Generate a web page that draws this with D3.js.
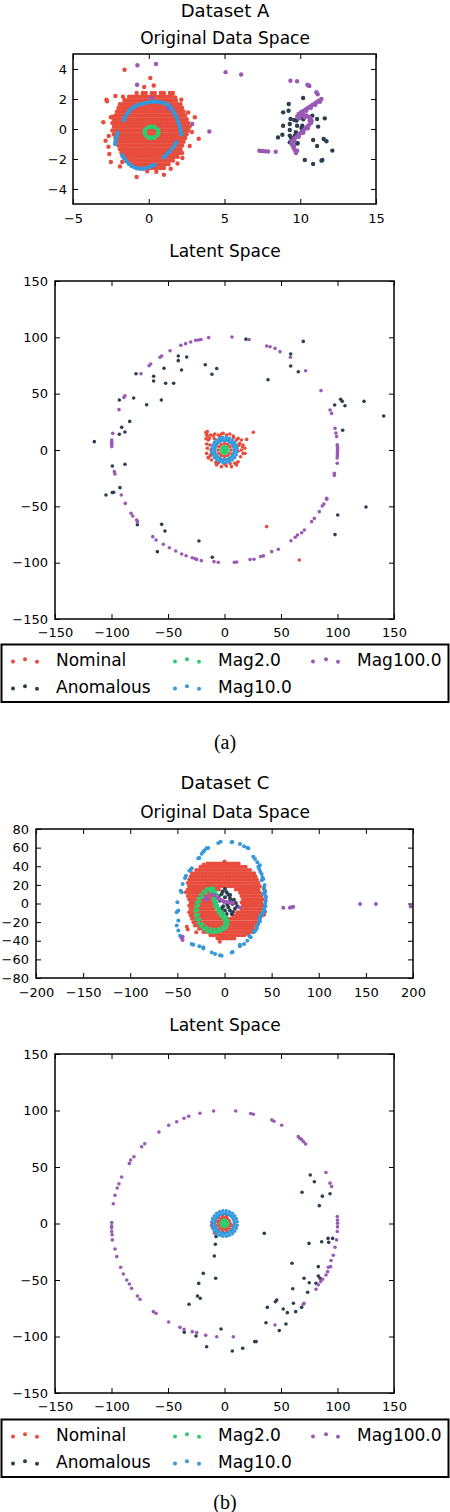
<!DOCTYPE html>
<html>
<head>
<meta charset="utf-8">
<script src="https://cdn.jsdelivr.net/npm/d3@7"></script>
<style>
body { margin: 0; background: #fff; }
svg { display: block; }
</style>
</head>
<body>
<script>
var width = 450;
var height = 1512;

var seriesNames = ["Nominal", "Anomalous", "Mag2.0", "Mag10.0", "Mag100.0"];
var seriesColors = ["#e74c3c", "#2c3e50", "#2ecc71", "#3498db", "#9b59b6"];

var origTicksA_x = [-5, 0, 5, 10, 15];
var origTicksA_y = [-4, -2, 0, 2, 4];
var origTicksC_x = [-200, -150, -100, -50, 0, 50, 100, 150, 200];
var origTicksC_y = [-80, -60, -40, -20, 0, 20, 40, 60, 80];
var latentTicks = [-150, -100, -50, 0, 50, 100, 150];

// ---- Dataset A, original space ----
// dense nominal blob, one row per y: [y, [x...]]
var aOrigNominalRows = [
  [2.4, [-0.8, -0.4, -0.2, 0.2, 0.4, 0.8, 1, 1.4]],
  [2.15, [-1.3, -1.1, -0.9, -0.7, -0.5, -0.3, -0.1, 0.1, 0.3, 0.5, 0.7, 0.9, 1.1, 1.3, 1.5]],
  [1.9, [-1.6, -1.4, -1.2, -1, -0.8, -0.6, -0.4, -0.2, 0, 0.2, 0.4, 0.6, 0.8, 1, 1.2, 1.4, 1.6, 1.8]],
  [1.65, [-1.9, -1.7, -1.5, -1.3, -1.1, -0.9, -0.7, -0.5, -0.3, -0.1, 0.1, 0.3, 0.5, 0.7, 0.9, 1.1, 1.3, 1.5, 1.7, 1.9, 2.1]],
  [1.4, [-2, -1.8, -1.6, -1.4, -1.2, -1, -0.8, -0.6, -0.4, -0.2, 0, 0.2, 0.4, 0.6, 0.8, 1, 1.2, 1.4, 1.6, 1.8, 2, 2.2]],
  [1.15, [-2.1, -1.9, -1.7, -1.5, -1.3, -1.1, -0.9, -0.7, -0.5, -0.3, -0.1, 0.1, 0.3, 0.5, 0.7, 0.9, 1.1, 1.3, 1.5, 1.7, 1.9, 2.1, 2.3]],
  [0.9, [-2.2, -2, -1.8, -1.6, -1.4, -1.2, -1, -0.8, -0.6, -0.4, -0.2, 0, 0.2, 0.4, 0.6, 0.8, 1, 1.2, 1.4, 1.6, 1.8, 2, 2.2, 2.4]],
  [0.65, [-2.3, -2.1, -1.9, -1.7, -1.5, -1.3, -1.1, -0.9, -0.7, -0.5, -0.3, -0.1, 0.1, 0.3, 0.5, 0.7, 0.9, 1.1, 1.3, 1.5, 1.7, 1.9, 2.1, 2.3, 2.5]],
  [0.4, [-2.4, -2.2, -2, -1.8, -1.6, -1.4, -1.2, -1, -0.8, -0.6, -0.4, -0.2, 0, 0.2, 0.4, 0.6, 0.8, 1, 1.2, 1.4, 1.6, 1.8, 2, 2.2, 2.4, 2.6]],
  [0.15, [-2.3, -2.1, -1.9, -1.7, -1.5, -1.3, -1.1, -0.9, -0.7, -0.5, -0.3, -0.1, 0.1, 0.3, 0.5, 0.7, 0.9, 1.1, 1.3, 1.5, 1.7, 1.9, 2.1, 2.3, 2.5, 2.7]],
  [-0.1, [-2.4, -2.2, -2, -1.8, -1.6, -1.4, -1.2, -1, -0.8, -0.6, -0.4, -0.2, 0, 0.2, 0.4, 0.6, 0.8, 1, 1.2, 1.4, 1.6, 1.8, 2, 2.2, 2.4, 2.6]],
  [-0.35, [-2.3, -2.1, -1.9, -1.7, -1.5, -1.3, -1.1, -0.9, -0.7, -0.5, -0.3, -0.1, 0.1, 0.3, 0.5, 0.7, 0.9, 1.1, 1.3, 1.5, 1.7, 1.9, 2.1, 2.3, 2.5]],
  [-0.6, [-2.2, -2, -1.8, -1.6, -1.4, -1.2, -1, -0.8, -0.6, -0.4, -0.2, 0, 0.2, 0.4, 0.6, 0.8, 1, 1.2, 1.4, 1.6, 1.8, 2, 2.2, 2.4]],
  [-0.85, [-2.1, -1.9, -1.7, -1.5, -1.3, -1.1, -0.9, -0.7, -0.5, -0.3, -0.1, 0.1, 0.3, 0.5, 0.7, 0.9, 1.1, 1.3, 1.5, 1.7, 1.9, 2.1, 2.3]],
  [-1.1, [-2, -1.8, -1.6, -1.4, -1.2, -1, -0.8, -0.6, -0.4, -0.2, 0, 0.2, 0.4, 0.6, 0.8, 1, 1.2, 1.4, 1.6, 1.8, 2, 2.2]],
  [-1.35, [-1.9, -1.7, -1.5, -1.3, -1.1, -0.9, -0.7, -0.5, -0.3, -0.1, 0.1, 0.3, 0.5, 0.7, 0.9, 1.1, 1.3, 1.5, 1.7, 1.9, 2.1]],
  [-1.6, [-1.8, -1.6, -1.4, -1.2, -1, -0.8, -0.6, -0.4, -0.2, 0, 0.2, 0.4, 0.6, 0.8, 1, 1.2, 1.4, 1.6, 1.8, 2]],
  [-1.85, [-1.7, -1.5, -1.3, -1.1, -0.9, -0.7, -0.5, -0.3, -0.1, 0.1, 0.3, 0.5, 0.7, 0.9, 1.1, 1.3, 1.5, 1.7, 1.9]],
  [-2.1, [-1.4, -1.2, -1, -0.8, -0.6, -0.4, -0.2, 0, 0.2, 0.4, 0.6, 0.8, 1, 1.2, 1.4, 1.6]],
  [-2.35, [-1.1, -0.9, -0.7, -0.5, -0.3, -0.1, 0.1, 0.3, 0.5, 0.7, 0.9, 1.1, 1.3]],
  [-2.6, [-0.8, -0.6, -0.4, -0.2, 0, 0.2, 0.4, 0.6, 0.8, 1]]
];
var aOrigNominalOut = [[-1.6, 3.95], [0.1, 3.4], [-0.3, 2.8], [0.33, 2.9], [-2.8, 1.95], [-3.0, 0.45],
  [-2.5, 0.78], [3.04, 0.78], [3.3, -0.65], [2.7, -1.13], [2.22, -1.93], [1.45, -2.65], [1.0, -3.05],
  [-0.8, -3.2], [0.5, -2.85], [-0.1, -2.82], [-2.85, -0.78], [-2.6, -1.67], [-2.5, -2.2], [2.15, 1.95],
  [1.6, 2.4], [2.45, 0.1], [2.2, -1.6], [-2.66, -1.18], [-2.64, -0.47], [-2.42, 0.82], [-2.75, 1.85],
  [2.6, 1.1], [2.85, -0.2], [1.9, -2.3], [-1.9, -2.5], [-2.2, 2.2], [1.54, 2.33], [0.84, 2.38], [-1.58, 1.93],
  [-1.7, 2.15], [1.75, 2.1], [-1.75, -2.2]];
var aOrigAnomalous = [[10.19, 2.07], [9.24, 1.67], [8.87, 1.11], [9.23, 1.22], [10.08, 1.11], [9.36, 0.67],
  [9.75, 0.56], [10.19, 0.82], [10.8, 0.89], [11.11, 0.67], [11.62, 0.71], [8.87, 0.22], [9.31, 0.33],
  [9.79, 0.22], [10.14, 0.22], [11.18, 0.16], [9.31, -0.07], [9.71, -0.22], [8.82, -0.38], [8.53, -0.56],
  [9.31, -0.44], [9.64, -0.44], [10.14, -0.22], [10.85, -0.73], [11.55, -0.67], [11.73, -0.82],
  [11.11, -1.13], [9.31, -0.89], [9.79, -0.96], [12.12, -1.44], [10.3, -2.07], [10.85, -2.33],
  [11.4, -2.11], [11.46, -2.07], [9.92, 0.89], [10.08, 0.07], [10.2, 0.65], [9.6, 0.6], [9.4, -0.6], [9.83, -0.95]];
var aOrigMag2 = [[0.63, -0.22], [0.57, -0.03], [0.4, 0.11], [0.18, 0.16], [-0.05, 0.11], [-0.21, -0.03],
  [-0.27, -0.22], [-0.21, -0.41], [-0.05, -0.55], [0.18, -0.6], [0.4, -0.55], [0.57, -0.41], [0.3, 0.15],
  [0.05, 0.14], [-0.25, -0.12], [-0.25, -0.32], [0.05, -0.58], [0.3, -0.58], [0.62, -0.12], [0.62, -0.32]];
var aOrigMag10 = [[-1.65, 0.6], [-1.55, 0.8], [-1.45, 0.98], [-1.32, 1.15], [-1.2, 1.3], [-1.05, 1.42],
  [-0.88, 1.52], [-0.7, 1.6], [-0.52, 1.66], [-0.33, 1.72], [-0.15, 1.76], [0.05, 1.8], [0.25, 1.82],
  [0.45, 1.82], [0.65, 1.8], [0.85, 1.76], [1.05, 1.72], [1.22, 1.64], [1.38, 1.52], [1.5, 1.38],
  [1.6, 1.2], [1.7, 1.02], [1.8, 0.84], [1.88, 0.65], [1.95, 0.45], [2.02, 0.25], [2.08, 0.05],
  [2.12, -0.15], [2.15, -0.35], [-2.05, -0.25], [-2.1, -0.45], [-2.15, -0.65], [-2.2, -0.85],
  [-2.22, -1.0], [-1.75, -1.75], [-1.62, -1.95], [-1.48, -2.15], [-1.32, -2.32], [-1.15, -2.45],
  [-0.95, -2.55], [-0.75, -2.62], [-0.55, -2.65], [-0.35, -2.65], [-0.15, -2.6], [0.05, -2.52],
  [0.22, -2.45], [0.4, -2.38], [1.0, -1.88], [1.12, -1.75], [1.25, -1.62], [1.38, -1.5], [1.55, -1.3],
  [1.7, -1.1], [1.82, -0.9]];
var aOrigMag100 = [[-0.75, 4.25], [0.48, 4.33], [-0.77, 2.95], [0.22, 2.07], [1.24, 1.36], [2.87, 0.33],
  [4.0, -0.17], [5.07, 3.79], [6.1, 3.63], [9.35, 3.22], [9.79, 3.18], [10.47, 2.95], [10.55, 2.9],
  [10.6, 2.87], [11.07, 2.45], [11.15, 2.32],
  [11.4, 2.0], [11.25, 1.9], [11.1, 1.8], [10.95, 1.7], [10.8, 1.6], [10.65, 1.5], [10.5, 1.4],
  [10.35, 1.3], [10.2, 1.2], [10.05, 1.1], [9.9, 1.0], [9.8, 0.85], [10.0, 0.92], [10.2, 0.94],
  [10.4, 0.9], [10.55, 0.82], [10.68, 0.7], [10.75, 0.55], [10.72, 0.42], [10.6, 0.3], [10.48, 0.18],
  [10.35, 0.05], [10.22, -0.08], [10.08, -0.2], [9.95, -0.32], [9.82, -0.45], [9.68, -0.58],
  [9.55, -0.7], [9.45, -0.82], [9.42, -0.95], [9.48, -1.08], [9.55, -1.22], [9.62, -1.36],
  [9.68, -1.5], [9.72, -1.6], [7.3, -1.45], [7.42, -1.46], [7.55, -1.47], [7.7, -1.49], [7.88, -1.5],
  [8.38, -1.52],
  [11.3, 1.82], [11.0, 1.62], [10.7, 1.42], [10.4, 1.22], [10.1, 1.02], [9.92, 0.72], [10.3, 0.78],
  [10.62, 0.55], [10.5, 0.05], [10.2, -0.25], [9.9, -0.52], [9.6, -0.8], [9.6, -1.1], [9.8, -1.45]];

// ---- Dataset A, latent space ----
var aLatNominal = [[-15.2, 16.3], [-15.2, 12.4], [-14.3, 8.9], [-12.3, 13.3], [-10, 12.4], [-8.6, 14.2],
  [-5.6, 13.3], [-2.7, 14.2], [1.8, 13.3], [4.7, 14.2], [7.7, 12.4], [12.1, 10.3], [15, 8.9], [16.5, 4.4],
  [18, 1.5], [16.5, -3], [14.2, -6], [12.1, -10.4], [10.6, -13.3], [6.2, -14.8], [1.8, -14.2],
  [-2.7, -14.8], [-7.1, -13.3], [-11.5, -8.9], [-14.3, -6.5], [-15.8, -3], [-15.2, 1.5], [-15.8, 5.3],
  [-13.4, 10.3], [10.6, 8.9], [13.5, 5.9], [15, 0], [9.1, -11.8], [-11.5, -3], [-13, 4.4], [-1.2, 14.8],
  [-7.7, -11.2], [-16.4, 15.7], [19.6, 9.4], [15.8, 3], [18.1, -3], [-14.3, -7.1], [-5.5, -11.5],
  [10.6, -11.5], [-12, 0], [12, -1], [0, -12.5], [-4, 12], [5, -12], [12.5, 4], [-12.5, -5], [8, 11],
  [-9, 10], [-16.4, 10], [-16, 14],
  [5.7, 0], [4.9, 2.9], [2.9, 4.9], [0, 5.7], [-2.9, 4.9], [-4.9, 2.9], [-5.7, 0], [-4.9, -2.9],
  [-2.9, -4.9], [0, -5.7], [2.9, -4.9], [4.9, -2.9],
  [37.3, -68], [66.2, -97.6], [25.5, 15.7]];
var aLatAnomalous = [[-115.2, 7.4], [-104.9, -39.9], [-93.1, 44.4], [-93.1, 14], [-91, 20.1], [-88.1, 16],
  [-83.9, 25.4], [-88.1, -12.7], [-99.3, -14.2], [-92.5, -33.4], [-98.1, -37.5], [-99.3, -37.8],
  [-80.4, 46.2], [-78.3, 67.7], [-68.9, 40.2], [-62.7, 65.4], [-62.7, 61.3], [-55.9, 44.4], [-53.5, 72.5],
  [-52.1, 59.2], [-45, 59.2], [-40.9, 79.3], [-40.9, 83.4], [-38, 71], [-33.5, 82.6], [-17, 75.6],
  [-11.1, 67.3], [-6.9, 72.4], [19, 98.4], [38.5, 62.4], [58.6, 85.2], [58.6, 74.6], [69.7, 96.4],
  [65.3, 69.5], [97.5, 39.9], [102.8, 45], [104.2, 43.2], [106.6, 39.3], [104.6, 17.5], [123.5, 43.2],
  [140.9, 30.2], [-77.1, -66.3], [-59.4, -90.2], [-55.6, -66], [-52.7, -71.9], [-22.6, -80.8],
  [-10.8, -95.2], [100.2, -57.7], [97.8, -75.1], [125.2, -50.6]];
var aLatMag2 = [[0, 0], [2.2, 0], [-2.2, 0], [0, 2.2], [0, -2.2], [1.6, 1.6], [-1.6, 1.6], [1.6, -1.6],
  [-1.6, -1.6], [3, 0], [-3, 0], [0, 3], [0, -3], [2.1, 2.1], [-2.1, 2.1], [2.1, -2.1], [-2.1, -2.1]];
var aLatMag10 = [[8.6, 0], [8.3, 2.2], [7.5, 4.3], [6.1, 6.1], [4.3, 7.4], [2.2, 8.3], [0, 8.6], [-2.2, 8.3],
  [-4.3, 7.5], [-6.1, 6.1], [-7.4, 4.3], [-8.3, 2.2], [-8.6, 0], [-8.3, -2.2], [-7.5, -4.3], [-6.1, -6.1],
  [-4.3, -7.4], [-2.2, -8.3], [0, -8.6], [2.2, -8.3], [4.3, -7.5], [6.1, -6.1], [7.4, -4.3], [8.3, -2.2],
  [11.1, 1.5], [10.3, 4.3], [8.9, 6.8], [6.8, 8.9], [4.3, 10.3], [1.5, 11.1], [-1.5, 11.1], [-4.3, 10.3],
  [-6.8, 8.9], [-8.9, 6.8], [-10.3, 4.3], [-11.1, 1.5], [-11.1, -1.5], [-10.3, -4.3], [-8.9, -6.8],
  [-6.8, -8.9], [-4.3, -10.3], [-1.5, -11.1], [1.5, -11.1], [4.3, -10.3], [6.8, -8.9], [8.9, -6.8],
  [10.3, -4.3], [11.1, -1.5]];
var aLatMag100 = [[-14, 99.7], [6.6, 100.3], [21.7, 98.1], [-20.8, 98.1], [-23, 97.6], [-25.5, 97.4],
  [-29.9, 95.9], [-34.4, 94.4], [-38.6, 92.9], [-48.2, 88.1], [-55.6, 83.4], [-57, 82.3], [-65.3, 76.3],
  [-66.8, 74.8], [-73.9, 67.7], [-88.1, 48.2], [-89, 46.7], [-93.4, 35.8], [-98.9, 14.8], [-99.8, 8.9],
  [-99.9, 7], [-99.8, 6.5], [-99.8, 5], [-99.8, 3], [-97.5, -19.2], [-96.9, -21.3], [-91.3, -39.9],
  [37.3, 92.3], [40.3, 91.7], [44.7, 90.2], [49.1, 87.3], [58.3, 82.3], [71.8, 70.4], [85.4, 52.7],
  [93.4, 35.5], [94.8, 32.5], [97.8, 19.2], [98.6, 15], [99.2, 12], [99.8, 4.7], [99.9, 3], [100.1, 1.8],
  [100, 0.5], [100.1, -1.2], [99.9, -3], [99.9, -5], [99.7, -7], [99.8, -11.8], [97.2, -20.7],
  [97.2, -22.5], [90.4, -42.9],
  [-87.8, -47.4], [-82.7, -56.2], [-81.2, -58.6], [-77.7, -62.1], [-77.1, -63.6], [-63.5, -76.9],
  [-60.6, -79.9], [-54.1, -83.7], [-48.8, -86.7], [-43.2, -89.6], [-37.9, -92.3], [-34, -93.8],
  [-28.5, -95.6], [-26.1, -96.5], [-24.6, -97.1], [-20.5, -98.2], [-9.3, -99.1], [-5.5, -99.7],
  [8.7, -99.7], [10.8, -99.4], [22.6, -97.3], [26.1, -97], [32, -94.6], [34.4, -94], [41.8, -90.2],
  [47.6, -88.1], [58.8, -80.5], [62.6, -77.5], [64.6, -75.4], [68.3, -73.4], [70.7, -71], [77.1, -63.6],
  [79.5, -60.7], [83.9, -54.7], [86.5, -49.7], [88, -47.9], [90.4, -43.8]];

// ---- Dataset C, original space ----
var cOrigNominalRows = [
  [43, [-18, -15, -12, -9, -6, -3, 0, 3, 6, 9, 12, 15]],
  [39.5, [-25.5, -22.5, -19.5, -16.5, -13.5, -10.5, -7.5, -4.5, -1.5, 1.5, 4.5, 7.5, 10.5, 13.5, 16.5, 19.5, 22.5]],
  [36, [-30, -27, -24, -21, -18, -15, -12, -9, -6, -3, 0, 3, 6, 9, 12, 15, 18, 21, 24, 27]],
  [32.5, [-34.5, -31.5, -28.5, -25.5, -22.5, -19.5, -16.5, -13.5, -10.5, -7.5, -4.5, -1.5, 1.5, 4.5, 7.5, 10.5, 13.5, 16.5, 19.5, 22.5, 25.5, 28.5, 31.5]],
  [29, [-36, -33, -30, -27, -24, -21, -18, -15, -12, -9, -6, -3, 0, 3, 6, 9, 12, 15, 18, 21, 24, 27, 30, 33]],
  [25.5, [-37.5, -34.5, -31.5, -28.5, -25.5, -22.5, -19.5, -16.5, -13.5, -10.5, -7.5, -4.5, -1.5, 1.5, 4.5, 7.5, 10.5, 13.5, 16.5, 19.5, 22.5, 25.5, 28.5, 31.5, 34.5]],
  [22, [-39, -36, -33, -30, -27, -24, -21, -18, -15, -12, -9, -6, -3, 0, 3, 6, 9, 12, 15, 18, 21, 24, 27, 30, 33, 36]],
  [18.5, [-37.5, -34.5, -31.5, -28.5, -25.5, -22.5, -19.5, -16.5, -13.5, -10.5, -7.5, -4.5, -1.5, 1.5, 4.5, 7.5, 10.5, 13.5, 16.5, 19.5, 22.5, 25.5, 28.5, 31.5, 34.5, 37.5]],
  [15, [-39, -36, -33, -30, -27, -24, -21, -18, -15, -12, -9, -6, 12, 15, 18, 21, 24, 27, 30, 33, 36]],
  [11.5, [-37.5, -34.5, -31.5, -28.5, -25.5, -22.5, -19.5, -16.5, -13.5, -10.5, 16.5, 19.5, 22.5, 25.5, 28.5, 31.5, 34.5, 37.5]],
  [8, [-39, -36, -33, -30, -27, -24, -21, -18, -15, -12, 18, 21, 24, 27, 30, 33, 36, 39]],
  [4.5, [-37.5, -34.5, -31.5, -28.5, -25.5, -22.5, -19.5, -16.5, -13.5, 19.5, 22.5, 25.5, 28.5, 31.5, 34.5, 37.5, 40.5]],
  [1, [-36, -33, -30, -27, -24, -21, -18, -15, -12, 18, 21, 24, 27, 30, 33, 36, 39]],
  [-2.5, [-37.5, -34.5, -31.5, -28.5, -25.5, -22.5, -19.5, -16.5, -13.5, -10.5, 19.5, 22.5, 25.5, 28.5, 31.5, 34.5, 37.5, 40.5]],
  [-6, [-36, -33, -30, -27, -24, -21, -18, -15, -12, 18, 21, 24, 27, 30, 33, 36, 39]],
  [-9.5, [-37.5, -34.5, -31.5, -28.5, -25.5, -22.5, -19.5, -16.5, -13.5, -10.5, -7.5, 13.5, 16.5, 19.5, 22.5, 25.5, 28.5, 31.5, 34.5, 37.5]],
  [-13, [-36, -33, -30, -27, -24, -21, -18, -15, -12, -9, -6, -3, 9, 12, 15, 18, 21, 24, 27, 30, 33, 36]],
  [-16.5, [-34.5, -31.5, -28.5, -25.5, -22.5, -19.5, -16.5, -13.5, -10.5, -7.5, -4.5, -1.5, 1.5, 4.5, 7.5, 10.5, 13.5, 16.5, 19.5, 22.5, 25.5, 28.5, 31.5, 34.5, 37.5]],
  [-20, [-33, -30, -27, -24, -21, -18, -15, -12, -9, -6, -3, 0, 3, 6, 9, 12, 15, 18, 21, 24, 27, 30, 33, 36]],
  [-23.5, [-31.5, -28.5, -25.5, -22.5, -19.5, -16.5, -13.5, -10.5, -7.5, -4.5, -1.5, 1.5, 4.5, 7.5, 10.5, 13.5, 16.5, 19.5, 22.5, 25.5, 28.5, 31.5, 34.5]],
  [-27, [-27, -24, -21, -18, -15, -12, -9, -6, -3, 0, 3, 6, 9, 12, 15, 18, 21, 24, 27, 30]],
  [-30.5, [-22.5, -19.5, -16.5, -13.5, -10.5, -7.5, -4.5, -1.5, 1.5, 4.5, 7.5, 10.5, 13.5, 16.5, 19.5, 22.5, 25.5, 28.5]],
  [-34, [-15, -12, -9, -6, -3, 0, 3, 6, 9, 12, 15, 18, 21]],
  [-37.5, [-7.5, -4.5, -1.5, 1.5, 4.5, 7.5, 10.5]]
];
var cOrigNominalOut = [[43, -8.8], [-40, -24.9], [-39, -28], [42, -12], [-5, -41], [0, 45], [-22, 42],
  [-41, 12], [41.5, 16], [-30, -31], [25, -33]];
var cOrigAnomalous = [[0.5, 15.6], [2.3, 12], [-3, 10.2], [4.1, 9.3], [0.5, 6.7], [5.8, 5.7], [-4.8, 3],
  [-0.5, 2], [6.7, 3], [8.5, -0.5], [-1.4, -3], [4.1, -4], [-5.7, -6], [0.5, -7.6], [5.8, -7.6],
  [11, -5.7], [2.3, -11.2], [7.6, -11.2], [-3, -9.4], [13.6, -3], [-2, 13], [3, -1], [9, -9], [10, 4],
  [-3, -5], [6, 9], [-6, 8], [12, 0.5]];
var cOrigMag2 = [[-12, 16], [-15, 16.5], [-18.5, 15.5], [-22, 13], [-25, 9.5], [-27.5, 5.5], [-29.5, 1],
  [-30.5, -3.5], [-31, -8], [-30.5, -12.5], [-29.5, -17], [-27.5, -21], [-25, -24.5], [-22, -27.5],
  [-18.5, -29.5], [-15, -30.5], [-11.5, -31], [-8, -30.5], [-4.5, -29.5], [-1, -28], [2, -25.5],
  [3.5, -22], [3.5, -18.5], [2, -15], [-0.5, -12], [-3, -9], [-5.5, -6], [-7.5, -2.5], [-8.5, 1],
  [-9.5, 4.5], [-10.5, 8], [-11.5, 11.5], [-12.5, 14.5],
  [-15, 13.8], [-20, 11.5], [-24, 7], [-26.5, 2.5], [-28, -2], [-28.5, -7], [-28, -12], [-26.5, -17],
  [-23.5, -22], [-19.5, -25.5], [-15, -27.5], [-10.5, -28.3], [-6, -27.5], [-2, -25.5], [0.5, -22],
  [0.5, -18.5], [-1.5, -15.5], [-4, -12.5], [-6.5, -9], [-8.5, -5.5], [-10, -2], [-11, 1.5],
  [-11.8, 5], [-12.5, 9], [-13.5, 12.5], [-9.5, 13], [-8, 9.5], [-7, 6]];
var cOrigMag10 = [[-6.6, 65], [-4.1, 66.4], [7.6, 65.7], [8.3, 66], [16.4, 63.9], [20.7, 61.6], [24.2, 60],
  [25.3, 59.4], [30.6, 50.1], [32.4, 47.8], [34.8, 44.2], [37.5, 41], [35.9, 39.4], [36.9, 37], [38, 34],
  [39.4, 31.7], [40.2, 28], [41.2, 26.3], [39.5, 25], [42.5, 20], [41.9, 17.3], [42.8, 14], [43, 12],
  [41.2, 10.7], [43.5, 8], [44, 6.6], [43.8, 3], [43, 0], [43.5, -3], [41.9, -5.9], [42.7, -8],
  [40.5, -10], [39.4, -11.3], [39.4, -13.5], [38, -14], [36.9, -16.6], [37.5, -19], [35.9, -22],
  [34.2, -24.3], [34.2, -26.6], [33, -29], [31, -31], [27.8, -36.3], [26.3, -35], [24.2, -39.9],
  [20.7, -43.5], [16.4, -46], [16.4, -44.2], [8.7, -52], [7.6, -52.5], [-3, -56], [-4.8, -55.6],
  [-10, -54.3], [-13.6, -52.5], [-22.5, -47.1], [-22.5, -48.3], [-26.7, -46], [-33.1, -44.2],
  [-34.8, -43.5], [-47.2, -34.5], [-49, -29.1], [-50.7, -23.7], [-49, -18.3], [-50.7, -9.5],
  [-49, -7.6], [-50, 1.3], [-46.5, 13.8], [-45.4, 12], [-44.4, 20.9], [-41.9, 27.4], [-40.9, 29.9],
  [-37.3, 35.3], [-35.9, 36], [-34.8, 37.8], [-27.8, 48.6], [-26.7, 48.8], [-24.2, 53.3], [-22.5, 55.6],
  [-21.4, 56.9], [-19, 59.4], [-17.2, 59.6]];
var cOrigMag100 = [[-20.5, 5], [-19, 7], [-18, 4], [-14, 9.5], [-12, 9], [-10, 8.5], [-7, 6], [-5, 4.5],
  [-3, 3.5], [-1, 2.5], [1, 1.5], [3, 1.5], [5, 1], [7, 1], [9, 0.5], [16, -4.2], [-44.4, -35.6],
  [-44.4, -39.2], [-45.5, -37], [62.4, -4.5], [69.4, -4.5], [71, -4], [72.9, -3.4], [143.8, -0.5],
  [160.7, -0.5], [197.5, -3.2]];

// ---- Dataset C, latent space ----
var cLatNominal = [[5, 0], [4.3, 2.5], [2.5, 4.3], [0, 5], [-2.5, 4.3], [-4.3, 2.5], [-5, 0], [-4.3, -2.5],
  [-2.5, -4.3], [0, -5], [2.5, -4.3], [4.3, -2.5], [1.9, 7], [-1.9, 7], [-5.2, 5.2], [-7, 1.9],
  [-7, -1.9], [-5.2, -5.2], [-1.9, -7], [1.9, -7], [5.2, -5.2], [7, -1.9], [-11, 0.5], [-11.5, -2],
  [-10, -4], [-9, -8.5]];
var cLatAnomalous = [[75.9, 42.9], [79.5, 37], [68.6, 27.6], [86.6, 24.2], [93.4, 26.3], [83.9, 15.8],
  [35.2, -8.7], [74.8, -17.6], [86, -16.1], [92.2, -16.7], [91.6, -13.2], [95.7, -13.2], [-7.5, -11.6],
  [-8.1, -18.4], [-9, -28.7], [59.7, -35.2], [83, -38.2], [83, -46.4], [84.6, -48.5], [70.4, -48.5],
  [75, -52.4], [81, -52.9], [60.4, -57.7], [73.6, -60.9], [61, -70.6], [46.2, -67.7], [45, -69.2],
  [52, -75.6], [55.6, -78.9], [63, -78], [68.3, -74.2], [37.9, -74.2], [36.7, -87.8], [54.4, -88.9],
  [48.5, -94.8], [26.7, -104.5], [28, -104.5], [16.1, -110.4], [6.9, -112.8], [-3.1, -93.3],
  [-15.8, -109.1], [-7.8, -48.5], [-18.8, -44.1], [-22.8, -53], [-23.9, -64.2], [-21.5, -66.2],
  [-31.4, -71.5], [-35.6, -96.3], [-25.2, -99.5]];
var cLatMag2 = [[0, 0], [2.2, 0], [-2.2, 0], [0, 2.2], [0, -2.2], [1.6, 1.6], [-1.6, 1.6], [1.6, -1.6],
  [-1.6, -1.6], [3.1, 0], [-3.1, 0], [0, 3.1], [0, -3.1], [2.2, 2.2], [-2.2, 2.2], [2.2, -2.2], [-2.2, -2.2]];
var cLatMag10 = [[8.7, 0.1], [8.4, 2.3], [7.5, 4.4], [6.2, 6.1], [4.4, 7.5], [2.3, 8.4], [0.1, 8.7],
  [-2.2, 8.4], [-4.3, 7.6], [-6.2, 6.2], [-7.5, 4.3], [-8.4, 2.3], [-8.7, 0], [-8.4, -2.2], [-7.6, -4.3],
  [-6.2, -6.1], [-4.4, -7.5], [-2.3, -8.4], [0, -8.7], [2.2, -8.4], [4.3, -7.5], [6.1, -6.2], [7.5, -4.4],
  [8.4, -2.3], [11.2, 1.5], [10.4, 4.3], [9, 6.9], [6.9, 9], [4.3, 10.4], [1.5, 11.2], [-1.5, 11.2],
  [-4.3, 10.4], [-6.9, 9], [-9, 6.9], [-10.4, 4.3], [-11.2, 1.5], [-11.2, -1.5], [-10.4, -4.3],
  [-9, -6.9], [-6.9, -9], [-4.3, -10.4], [-1.5, -11.2], [1.5, -11.2], [4.3, -10.4], [6.9, -9],
  [9, -6.9], [10.4, -4.3], [11.2, -1.5]];
var cLatMag100 = [[-9.6, 99.6], [9.9, 99.6], [23.2, 97.3], [25.5, 96.7], [-21.7, 97.6], [-31.7, 94.9],
  [-35.8, 93.1], [-42.3, 90.1], [-49.4, 86.9], [-58, 80.9], [-70.6, 70.6], [-73.3, 67.9], [-80.1, 59.1],
  [-83, 56.2], [-84.2, 53.2], [-91, 41.1], [-93.4, 35.2], [-94.9, 31.4], [-96.9, 24.9], [-98.4, 17.5],
  [-99.8, 0.9], [-99.9, -2], [-99.9, -4], [-99.8, -7.1], [-99.5, -10], [-99.3, -14.5], [-96.9, -22.5],
  [-95.4, -29.3], [-91.9, -38.7],
  [41.8, 91.7], [43.8, 90.5], [50.6, 86.9], [65.3, 76.9], [66.5, 75.5], [68.3, 74.2], [70, 72.3],
  [71.8, 70.4], [89.8, 45.1], [93.4, 35.7], [94.8, 32.7], [99.8, 6.2], [100, 3], [100.1, 0.3],
  [100, -3], [99.8, -7.1], [99.2, -14.5], [97.8, -21], [96.3, -28.1], [94.3, -32.8], [91.9, -38.7],
  [-89.5, -44.7], [-86.5, -50], [-84.2, -53.5], [-82.2, -57.4], [-77.1, -64.2], [-74.8, -67.1],
  [-63, -78], [-60.6, -79.5], [-49.4, -87.2], [-39.4, -91.9], [-35.8, -93.7], [-28.5, -95.7],
  [-24.6, -96.6], [-16.6, -99], [-6.9, -100.2], [7.8, -100.2], [44.7, -89.8], [69.7, -71.5],
  [70.4, -70.6], [81, -58.2], [83, -54.3], [85.1, -51.4], [86.8, -49.4], [89.8, -45.6], [91.3, -42.6],
  [93.9, -38.2]];

var rowsToPoints = function(rows) {
  var pts = [];
  rows.forEach(function(row) {
    row[1].forEach(function(x) { pts.push([x, row[0]]); });
  });
  return pts;
};

var svg = d3.select('body').append('svg').attr('width', width).attr('height', height)
  .style('font-family', '"DejaVu Sans", sans-serif');

var addText = function(str, x, y, size, family) {
  svg.append('text').attr('x', x).attr('y', y).attr('text-anchor', 'middle')
    .style('font-size', size + 'px').style('font-family', family || null).style('fill', '#000').text(str);
};

var clipCount = 0;
var drawPanel = function(p) {
  var x = d3.scaleLinear().domain(p.xDomain).range([p.left, p.right]);
  var y = d3.scaleLinear().domain(p.yDomain).range([p.bottom, p.top]);
  var clipId = 'clip' + (clipCount++);
  svg.append('clipPath').attr('id', clipId).append('rect')
    .attr('x', p.left).attr('y', p.top).attr('width', p.right - p.left).attr('height', p.bottom - p.top);

  var plot = svg.append('g').attr('clip-path', 'url(#' + clipId + ')');
  p.layers.forEach(function(pts, i) {
    plot.append('g').selectAll('circle').data(pts).enter().append('circle')
      .attr('cx', function(d) { return x(d[0]); })
      .attr('cy', function(d) { return y(d[1]); })
      .attr('r', p.r)
      .style('fill', seriesColors[i]);
  });

  var fmt = d3.format('d');
  var none = function() { return ''; };
  var axes = [
    [d3.axisBottom(x).tickValues(p.xTicks).tickFormat(fmt).tickPadding(p.xPad), 'translate(0,' + p.bottom + ')'],
    [d3.axisLeft(y).tickValues(p.yTicks).tickFormat(fmt).tickPadding(p.yPad), 'translate(' + p.left + ',0)'],
    [d3.axisTop(x).tickValues(p.xTicks).tickFormat(none), 'translate(0,' + p.top + ')'],
    [d3.axisRight(y).tickValues(p.yTicks).tickFormat(none), 'translate(' + p.right + ',0)']
  ];
  axes.forEach(function(a) {
    var g = svg.append('g').attr('transform', a[1])
      .call(a[0].tickSizeInner(-5).tickSizeOuter(0));
    g.attr('font-family', null).attr('font-size', null);
    g.select('.domain').remove();
    g.selectAll('line').attr('stroke', '#000').attr('stroke-width', 1);
    g.selectAll('text').style('font-size', '13px').attr('fill', '#000');
  });

  svg.append('rect').attr('x', p.left).attr('y', p.top)
    .attr('width', p.right - p.left).attr('height', p.bottom - p.top)
    .style('fill', 'none').style('stroke', '#000').style('stroke-width', 1.5);
};

var drawLegend = function(top) {
  svg.append('rect').attr('x', 1.5).attr('y', top).attr('width', 447).attr('height', 57.5)
    .style('fill', 'none').style('stroke', '#000').style('stroke-width', 2);
  var dotX = [[13, 25, 37], [175, 187, 199], [313, 326, 338]];
  var textX = [56, 218, 357];
  var dotDy = [0.5, -1.8, 0.8];
  seriesNames.forEach(function(name, i) {
    var col = Math.floor(i / 2), row = i % 2;
    var cy = top + 16.5 + row * 27;
    dotX[col].forEach(function(dx, k) {
      svg.append('circle').attr('cx', dx).attr('cy', cy + dotDy[k]).attr('r', 2)
        .style('fill', seriesColors[i]);
    });
    svg.append('text').attr('x', textX[col]).attr('y', top + 21.5 + row * 27)
      .style('font-size', '17px').style('fill', '#000').text(name);
  });
};

// Dataset A
addText('Dataset A', 225, 17, 18);
addText('Original Data Space', 225, 44, 17);
drawPanel({left: 73, right: 376, top: 54, bottom: 204, xDomain: [-5, 15], yDomain: [-5, 5],
  xTicks: origTicksA_x, yTicks: origTicksA_y, r: 2.2, xPad: 10, yPad: 6,
  layers: [aOrigNominalOut.concat(rowsToPoints(aOrigNominalRows)), aOrigAnomalous, aOrigMag2, aOrigMag10, aOrigMag100]});
addText('Latent Space', 225, 257, 17);
drawPanel({left: 55, right: 394, top: 281, bottom: 619, xDomain: [-150, 150], yDomain: [-150, 150],
  xTicks: latentTicks, yTicks: latentTicks, r: 1.8, xPad: 9, yPad: 7,
  layers: [aLatNominal, aLatAnomalous, aLatMag2, aLatMag10, aLatMag100]});
drawLegend(644.5);
addText('(a)', 225, 749, 20, '"Liberation Serif", "Times New Roman", serif');

// Dataset C
addText('Dataset C', 225, 789, 18);
addText('Original Data Space', 225, 818, 17);
drawPanel({left: 36, right: 413, top: 829, bottom: 978, xDomain: [-200, 200], yDomain: [-80, 80],
  xTicks: origTicksC_x, yTicks: origTicksC_y, r: 2.0, xPad: 10, yPad: 7,
  layers: [cOrigNominalOut.concat(rowsToPoints(cOrigNominalRows)), cOrigAnomalous, cOrigMag2, cOrigMag10, cOrigMag100]});
addText('Latent Space', 225, 1031, 17);
drawPanel({left: 55, right: 394, top: 1054, bottom: 1393, xDomain: [-150, 150], yDomain: [-150, 150],
  xTicks: latentTicks, yTicks: latentTicks, r: 1.8, xPad: 9, yPad: 7,
  layers: [cLatNominal, cLatAnomalous, cLatMag2, cLatMag10, cLatMag100]});
drawLegend(1419.5);
addText('(b)', 225, 1509, 20, '"Liberation Serif", "Times New Roman", serif');
</script>
</body>
</html>
